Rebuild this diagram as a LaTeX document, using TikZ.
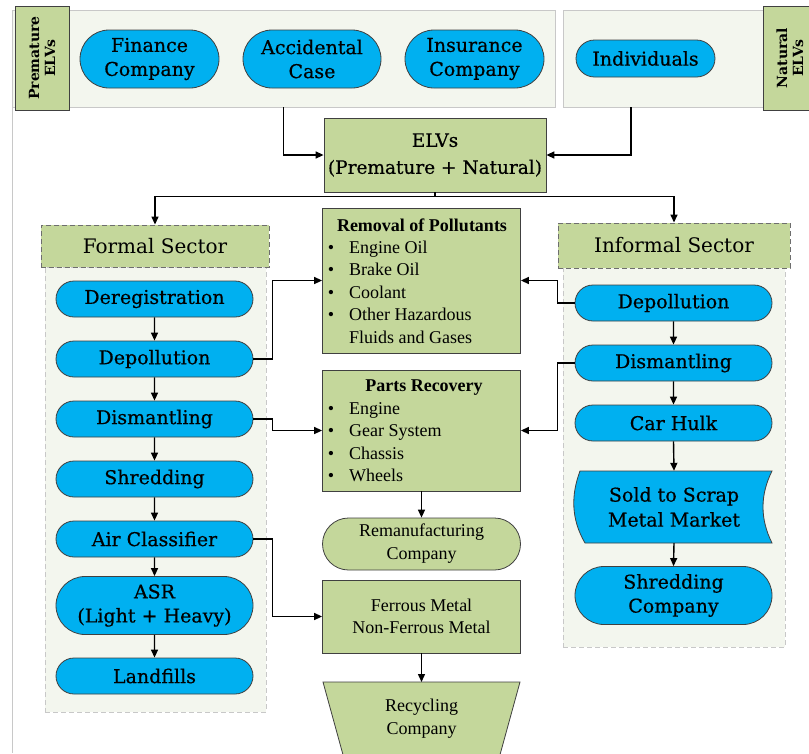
\documentclass[tikz,border=0pt]{standalone}
\usepackage{fontspec}
\setmainfont{Liberation Serif}
\newfontfamily\slab[FakeBold=0.5]{DejaVu Serif}
\newfontfamily\slabb{DejaVu Serif}
\usetikzlibrary{shapes.misc,arrows.meta}
\definecolor{cblue}{HTML}{00B0F0}
\definecolor{cgreen}{HTML}{C4D79B}
\definecolor{cpanel}{HTML}{F3F6EE}
\definecolor{cpanelb}{HTML}{C8C8C8}
\definecolor{cedge}{HTML}{404040}
\definecolor{cdash}{HTML}{6E6E6E}
\tikzset{
  blu/.style={rounded rectangle, draw=cedge, line width=0.8pt, fill=cblue, minimum height=36pt,
    minimum width=197pt, inner sep=0pt, font=\slab\fontsize{19}{24}\selectfont, align=center},
  grn/.style={rectangle, draw=cedge, line width=0.8pt, fill=cgreen, inner sep=0pt},
  pnl/.style={rectangle, draw=cpanelb, fill=cpanel, line width=0.8pt, inner sep=0pt},
  dpnl/.style={rectangle, draw=cpanelb, fill=cpanel, line width=0.8pt, inner sep=0pt, dash pattern=on 5pt off 3pt},
  hdr/.style={rectangle, draw=cdash, fill=cgreen, line width=0.9pt, inner sep=0pt, dash pattern=on 5pt off 3pt,
    font=\slabb\fontsize{20}{24}\selectfont},
  vlab/.style={grn, minimum width=54pt, minimum height=104pt},
  vtxt/.style={rotate=90, align=center, font=\slabb\bfseries\fontsize{14}{16}\selectfont},
  tms/.style={font=\fontsize{18}{22}\selectfont, inner sep=0pt},
  tmsb/.style={font=\bfseries\fontsize{18}{22}\selectfont, inner sep=0pt},
  arr/.style={-{Triangle[length=8pt,width=7pt]}, line width=1.4pt},
  ln/.style={line width=1.4pt}
}
\begin{document}
\begin{tikzpicture}[x=1pt,y=-1pt]
\useasboundingbox (0,0) rectangle (809,753);
\fill[white] (0,0) rectangle (809,753);
\clip (0,0) rectangle (809,753);
% left faint guide line
\draw[cpanelb, line width=0.8pt] (12,10) -- (12,753);
% top panels
\node[pnl, minimum width=543pt, minimum height=97pt] (tlp) at (283.5,58.5) {};
\node[pnl, minimum width=227pt, minimum height=97pt] (trp) at (676.5,58.5) {};
\node[vlab] (pre) at (42,58) {};
\node[vtxt] (pret) at (42,58) {Premature\\ELVs};
\node[vlab] (nat) at (790,58) {};
\node[vtxt] (natt) at (790,58) {Natural\\ELVs};
% top blue nodes
\node[blu, minimum width=139pt, minimum height=58pt] (fin) at (149.5,59) {Finance\\Company};
\node[blu, minimum width=138pt, minimum height=58pt] (acc) at (312,59) {Accidental\\Case};
\node[blu, minimum width=139pt, minimum height=58pt] (ins) at (474.5,59) {Insurance\\Company};
\node[blu, minimum width=139pt, minimum height=37pt] (ind) at (645.5,58.5) {Individuals};
% ELVs
\node[grn, minimum width=222pt, minimum height=74pt, align=center, font=\slab\fontsize{18.5}{27}\selectfont] (elv) at (435,155) {ELVs\\(Premature + Natural)};
\coordinate (rs) at (631,107);
\draw[arr] (tlp.south) |- (elv.west);
\draw[arr] (rs) |- (elv.east);
% sector panels and headers
\node[dpnl, minimum width=221pt, minimum height=445pt] (fpnl) at (155.5,489.5) {};
\node[dpnl, minimum width=222pt, minimum height=380pt] (ipnl) at (674,457) {};
\node[hdr, minimum width=228pt, minimum height=42pt] (fh) at (155,246) {Formal Sector};
\node[hdr, minimum width=232pt, minimum height=45pt] (ih) at (674,245.5) {Informal Sector};
\draw[ln] (elv.south) -- ++(0,4) coordinate (split);
\draw[arr] (split) -| (fh.north);
\draw[arr] (split) -| (ih.north);
% formal chain
\node[blu] (fdereg) at (154.5,299) {Deregistration};
\node[blu] (fdep) at (154.5,359) {Depollution};
\node[blu] (fdis) at (154.5,419) {Dismantling};
\node[blu] (fshr) at (154.5,479) {Shredding};
\node[blu] (fair) at (154.5,539) {Air Classifier};
\node[blu, minimum height=58pt] (fasr) at (154.5,605.5) {ASR\\(Light + Heavy)};
\node[blu] (fland) at (154.5,676) {Landfills};
\draw[arr] (fdereg) -- (fdep);
\draw[arr] (fdep) -- (fdis);
\draw[arr] (fdis) -- (fshr);
\draw[arr] (fshr) -- (fair);
\draw[arr] (fair) -- (fasr);
\draw[arr] (fasr) -- (fland);
% central boxes
\node[grn, minimum width=198pt, minimum height=145pt] (rem) at (421.5,280.5) {};
\node[tmsb, anchor=base] (remt) at (422,231) {Removal of Pollutants};
\node[tms, anchor=base] (rb1) at (331,253) {\textbullet};
\node[tms, anchor=base] (rb2) at (331,275.5) {\textbullet};
\node[tms, anchor=base] (rb3) at (331,298) {\textbullet};
\node[tms, anchor=base] (rb4) at (331,320.5) {\textbullet};
\node[tms, anchor=base west] (ri1) at (349,253) {Engine Oil};
\node[tms, anchor=base west] (ri2) at (349,275.5) {Brake Oil};
\node[tms, anchor=base west] (ri3) at (349,298) {Coolant};
\node[tms, anchor=base west] (ri4) at (349,320.5) {Other Hazardous};
\node[tms, anchor=base west] (ri5) at (349,343) {Fluids and Gases};
\node[grn, minimum width=198pt, minimum height=121pt] (par) at (421.5,430.5) {};
\node[tmsb, anchor=base] (part) at (424,391) {Parts Recovery};
\node[tms, anchor=base] (pb1) at (331,414) {\textbullet};
\node[tms, anchor=base] (pb2) at (331,436.5) {\textbullet};
\node[tms, anchor=base] (pb3) at (331,459) {\textbullet};
\node[tms, anchor=base] (pb4) at (331,481) {\textbullet};
\node[tms, anchor=base west] (pi1) at (349,414) {Engine};
\node[tms, anchor=base west] (pi2) at (349,436.5) {Gear System};
\node[tms, anchor=base west] (pi3) at (349,459) {Chassis};
\node[tms, anchor=base west] (pi4) at (349,481) {Wheels};
\node[grn, rounded rectangle, minimum width=198pt, minimum height=52pt, align=center, font=\fontsize{18}{23}\selectfont] (rmf) at (421.5,544) {Remanufacturing\\Company};
\node[grn, minimum width=198pt, minimum height=73pt, align=center, font=\fontsize{18}{22}\selectfont] (fer) at (421.5,616.5) {Ferrous Metal\\Non-Ferrous Metal};
\draw[grn] (323,682) -- (520,682) -- (498,762) -- (345,762) -- cycle;
\coordinate (rectop) at (421.5,682);
\node[align=center, font=\fontsize{18}{23}\selectfont, inner sep=0pt] (rec) at (421.5,719) {Recycling\\Company};
\draw[arr] (par.south) -- (rmf.north);
\draw[arr] (fer.south) -- (rectop);
% formal to central
\draw[arr] (fdep.east) -- ++(19,0) |- (rem.west);
\draw[arr] (fdis.east) -- ++(19,0) |- (par.west);
\draw[arr] (fair.east) -- ++(19,0) |- (fer.west);
% informal chain
\node[blu] (idep) at (673.5,303) {Depollution};
\node[blu] (idis) at (673.5,363) {Dismantling};
\node[blu] (ihulk) at (673.5,423) {Car Hulk};
\draw[draw=cedge, line width=0.8pt, fill=cblue] (580,471) -- (772,471)
  .. controls (760,495) and (760,519) .. (772,543) -- (585,543)
  .. controls (571,519) and (571,495) .. (580,471) -- cycle;
\node[align=center, font=\slab\fontsize{19}{25}\selectfont, inner sep=0pt, minimum height=72pt] (sold) at (674,507) {Sold to Scrap\\Metal Market};
\node[blu, minimum height=58pt] (ishr) at (673.5,595.5) {Shredding\\Company};
\draw[arr] (idep) -- (idis);
\draw[arr] (idis) -- (ihulk);
\draw[arr] (ihulk.south) -- (sold.north);
\draw[arr] (sold.south) -- (ishr.north);
\draw[arr] (idep.west) -- ++(-17,0) |- (rem.east);
\draw[arr] (idis.west) -- ++(-17,0) |- (par.east);
\end{tikzpicture}
\end{document}
